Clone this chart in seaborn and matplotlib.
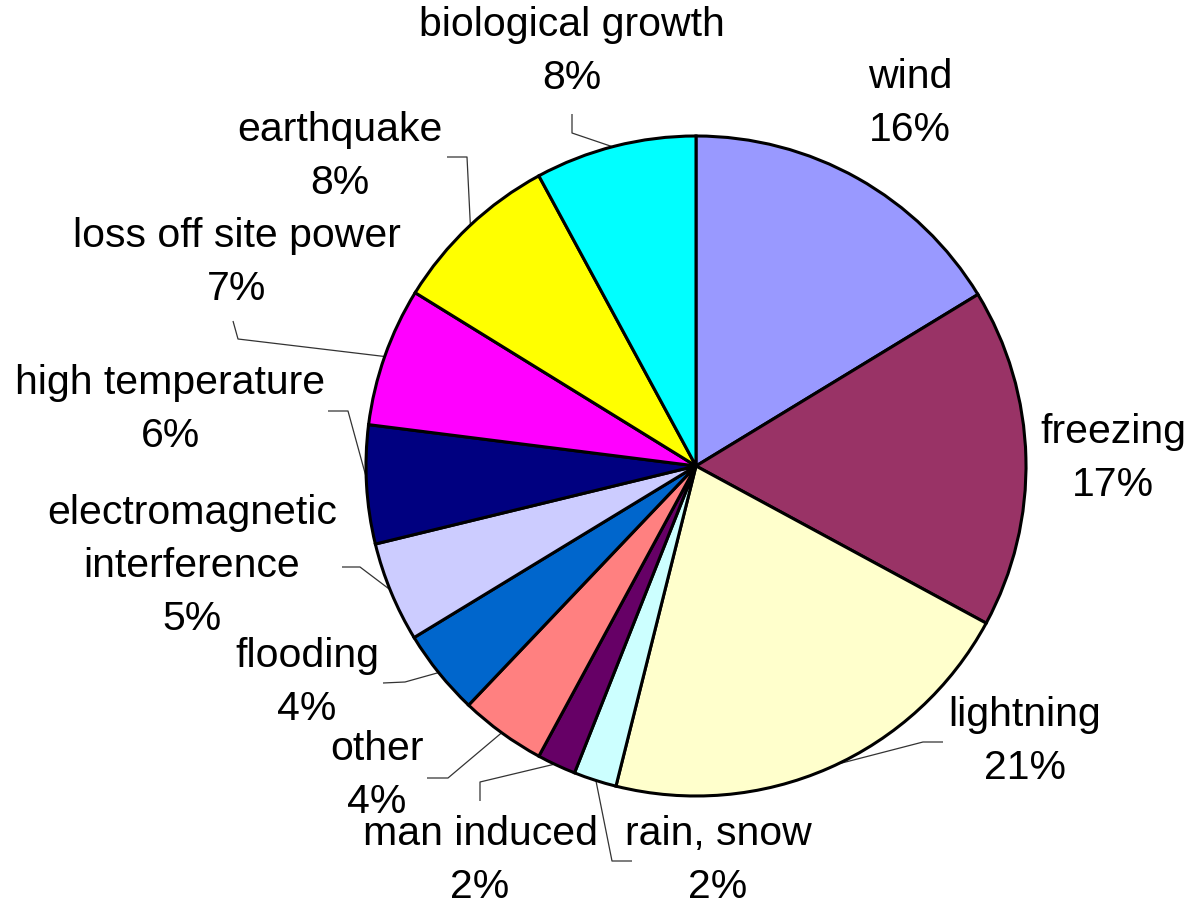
import numpy as np
import matplotlib
matplotlib.use("Agg")
import matplotlib.pyplot as plt
import seaborn as sns

# ---- data ----
categories = ["wind", "freezing", "lightning", "rain, snow", "man induced", "other",
              "flooding", "electromagnetic\ninterference", "high temperature",
              "loss off site power", "earthquake", "biological growth"]
shares = [16.3, 16.6, 21.0, 2.1, 1.9, 4.2, 4.2, 4.9, 5.8, 6.8, 8.3, 7.9]
colors = ["#9999FF", "#993366", "#FFFFCC", "#CCFFFF", "#660066", "#FF8080",
          "#0066CC", "#CCCCFF", "#000080", "#FF00FF", "#FFFF00", "#00FFFF"]

# ---- layout (pixel space, y measured from top) ----
W, H = 1190, 904
cx, cy, R = 696, 467, 330
# label centre (x, y of first line)
label_pos = [(910, 77), (1113, 432), (1025, 715), (718, 834), (480, 834), (377, 749),
             (307, 656), (192, 513), (170, 383), (237, 236), (340, 130), (572, 25)]
# leader stubs (start, elbow) or None
leaders = [None, None, ((943, 743), (923, 743)), ((632, 862), (612, 862)),
           ((480, 802), (480, 783)), ((427, 779), (448, 779)), ((383, 684), (405, 683)),
           ((342, 568), (360, 568)), ((328, 412), (348, 412)), ((233, 322), (238, 340)),
           ((447, 158), (467, 158)), ((572, 115), (572, 134))]
line_gap = 53

sns.set_theme(style="white")
plt.rcParams['font.family'] = ['Liberation Sans', 'DejaVu Sans']

fig = plt.figure(figsize=(W / 100, H / 100), dpi=100)
ax = fig.add_axes([0, 0, 1, 1])

wedges, _ = ax.pie(shares, colors=colors, startangle=90, counterclock=False,
                   center=(cx, H - cy), radius=R,
                   wedgeprops=dict(edgecolor="black", linewidth=2.2))
ax.set_xlim(0, W)
ax.set_ylim(0, H)
ax.set_aspect("equal")
ax.axis("off")

fs = 29.5
for w, name, val, (lx, ly), ld in zip(wedges, categories, shares, label_pos, leaders):
    lines = name.split("\n") + [f"{round(val)}%"]
    for i, t in enumerate(lines):
        ax.text(lx, H - (ly + i * line_gap), t, ha="center", va="center",
                fontsize=fs, color="black")
    if ld is not None:
        th = np.deg2rad((w.theta1 + w.theta2) / 2)
        ex = cx + 0.995 * R * np.cos(th)
        ey = (H - cy) + 0.995 * R * np.sin(th)
        (sx, sy), (bx, by) = ld
        ax.plot([sx, bx, ex], [H - sy, H - by, ey], color="#333333", lw=0.9,
                solid_capstyle="butt", zorder=0.5)

fig.savefig("out.png", dpi=100, facecolor="white")
